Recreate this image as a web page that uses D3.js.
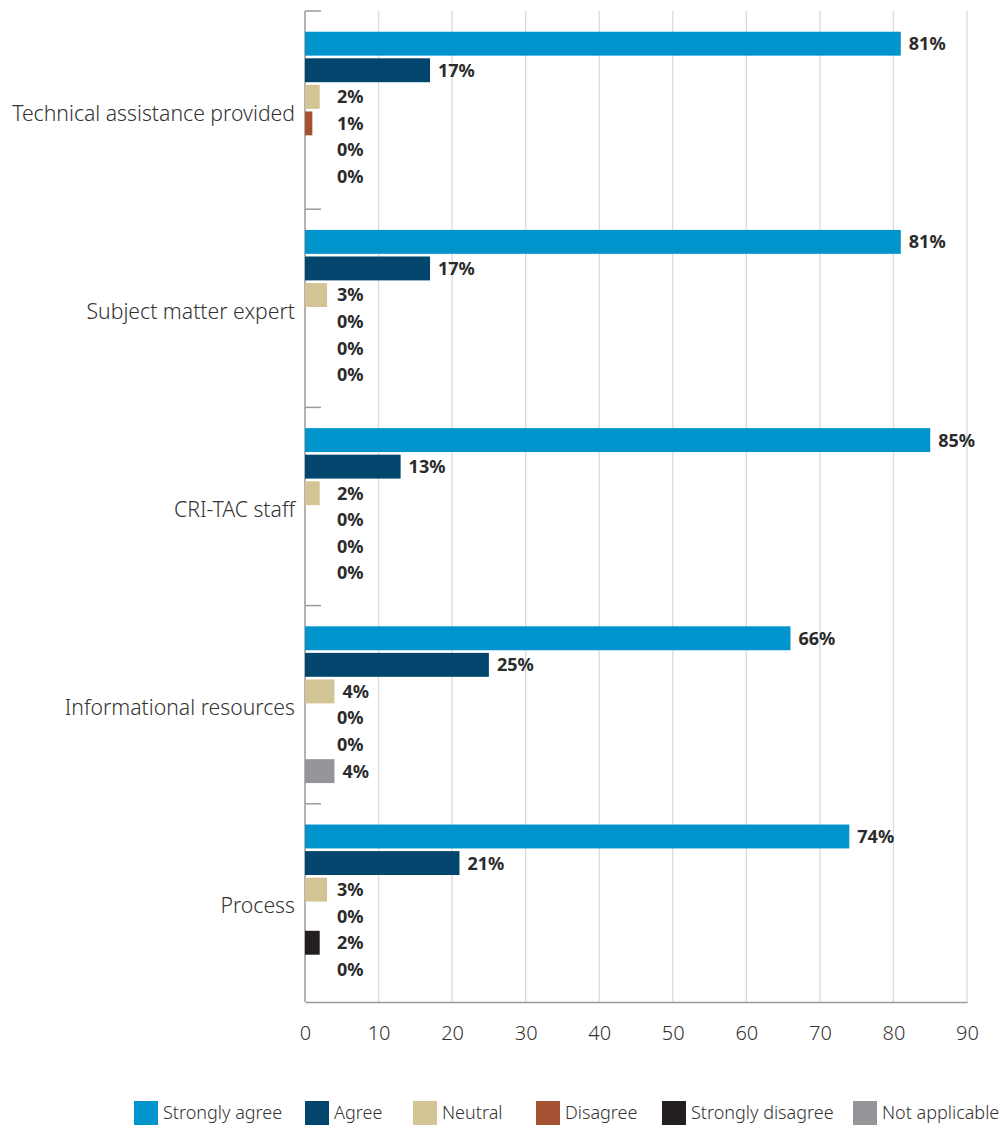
<!DOCTYPE html>
<html>
<head>
<meta charset="utf-8">
<script src="https://cdn.jsdelivr.net/npm/d3@7"></script>
<style>
  html, body { margin: 0; padding: 0; background: #fff; }
  svg { display: block; }
</style>
</head>
<body>
<svg id="chart" width="1005" height="1130"></svg>
<script>
// Survey responses, percent of respondents per item
const categories = [
  "Technical assistance provided",
  "Subject matter expert",
  "CRI-TAC staff",
  "Informational resources",
  "Process"
];
const seriesNames = ["Strongly agree", "Agree", "Neutral", "Disagree", "Strongly disagree", "Not applicable"];
const stronglyAgree    = [81, 81, 85, 66, 74];
const agree            = [17, 17, 13, 25, 21];
const neutral          = [2, 3, 2, 4, 3];
const disagree         = [1, 0, 0, 0, 0];
const stronglyDisagree = [0, 0, 0, 0, 2];
const notApplicable    = [0, 0, 0, 4, 0];
const xTicks = [0, 10, 20, 30, 40, 50, 60, 70, 80, 90];

const seriesValues = [stronglyAgree, agree, neutral, disagree, stronglyDisagree, notApplicable];
const colors = ["#0093cc", "#03466d", "#d3c496", "#a55233", "#231f20", "#939598"];

const svg = d3.select("#chart");
const margin = { top: 11, left: 305, right: 38, bottom: 128 };
const W = 1005, H = 1130;
const plotW = W - margin.left - margin.right;
const plotH = H - margin.top - margin.bottom;
const FONT = "'Noto Sans', 'Open Sans', sans-serif";

const x = d3.scaleLinear().domain([0, 90]).range([0, plotW]);
const y0 = d3.scaleBand().domain(categories).range([0, plotH]).paddingInner(0).paddingOuter(0);
const y1 = d3.scaleBand().domain(seriesNames).range([0, y0.bandwidth()]).paddingInner(0.1).paddingOuter(0.78);

const g = svg.append("g").attr("transform", `translate(${margin.left},${margin.top})`);

// vertical gridlines
g.append("g")
  .selectAll("line")
  .data(xTicks.filter(d => d > 0))
  .join("line")
  .attr("x1", d => x(d)).attr("x2", d => x(d))
  .attr("y1", 0).attr("y2", plotH)
  .attr("stroke", "#dadada").attr("stroke-width", 1.3);

// x axis
const xAxis = g.append("g")
  .attr("transform", `translate(0,${plotH})`)
  .call(d3.axisBottom(x).tickValues(xTicks).tickSize(0).tickPadding(24));
xAxis.select(".domain").attr("stroke", "#9a9a9a").attr("stroke-width", 1.5);
xAxis.selectAll("text")
  .attr("font-family", FONT).attr("font-size", 20).attr("font-weight", 300)
  .attr("fill", "#333");

// y axis with separators between categories
const yAxisG = g.append("g");
yAxisG.append("line")
  .attr("x1", 0).attr("x2", 0).attr("y1", 0).attr("y2", plotH)
  .attr("stroke", "#9a9a9a").attr("stroke-width", 1.5);
const boundaries = categories.map(c => y0(c));
yAxisG.selectAll("line.sep")
  .data(boundaries)
  .join("line")
  .attr("class", "sep")
  .attr("x1", 0).attr("x2", 16)
  .attr("y1", d => d).attr("y2", d => d)
  .attr("stroke", "#9a9a9a").attr("stroke-width", 1.5);

// category labels
g.append("g")
  .selectAll("text")
  .data(categories)
  .join("text")
  .attr("x", -10)
  .attr("y", d => y0(d) + y0.bandwidth() / 2 + 3)
  .attr("dy", "0.35em")
  .attr("text-anchor", "end")
  .attr("font-family", FONT).attr("font-size", 21.2).attr("font-weight", 300)
  .attr("fill", "#333")
  .text(d => d);

// bars
const rows = [];
categories.forEach((c, i) => {
  seriesNames.forEach((s, j) => {
    rows.push({ cat: c, series: s, value: seriesValues[j][i], color: colors[j] });
  });
});

const groups = g.append("g")
  .selectAll("g")
  .data(rows)
  .join("g")
  .attr("transform", d => `translate(0,${y0(d.cat) + y1(d.series)})`);

groups.append("rect")
  .attr("x", 0)
  .attr("y", 0)
  .attr("width", d => x(d.value))
  .attr("height", y1.bandwidth())
  .attr("fill", d => d.color);

groups.append("text")
  .attr("x", d => Math.max(x(d.value) + 8, x(0) + 32))
  .attr("y", y1.bandwidth() / 2)
  .attr("dy", "0.36em")
  .attr("font-family", FONT).attr("font-size", 18).attr("font-weight", 700)
  .attr("fill", "#2b2b2b")
  .text(d => d.value + "%");

// legend
const legendItems = [
  { name: seriesNames[0], color: colors[0], x: 134 },
  { name: seriesNames[1], color: colors[1], x: 305 },
  { name: seriesNames[2], color: colors[2], x: 413 },
  { name: seriesNames[3], color: colors[3], x: 536 },
  { name: seriesNames[4], color: colors[4], x: 662 },
  { name: seriesNames[5], color: colors[5], x: 853 }
];
const legend = svg.append("g")
  .selectAll("g")
  .data(legendItems)
  .join("g")
  .attr("transform", d => `translate(${d.x},1101)`);
legend.append("rect")
  .attr("width", 24).attr("height", 24)
  .attr("fill", d => d.color);
legend.append("text")
  .attr("x", 29).attr("y", 12).attr("dy", "0.36em")
  .attr("font-family", FONT).attr("font-size", 18).attr("font-weight", 300)
  .attr("fill", "#333")
  .text(d => d.name);
</script>
</body>
</html>
